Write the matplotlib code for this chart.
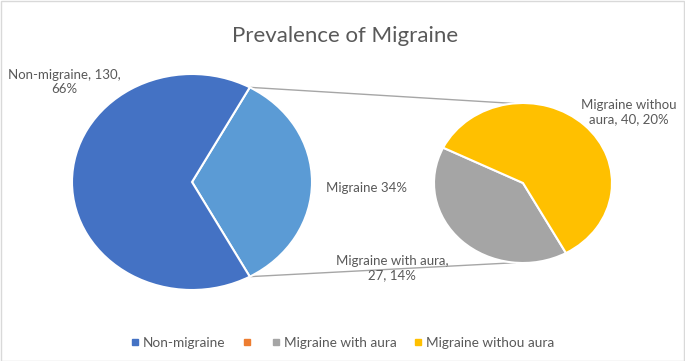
import numpy as np
import matplotlib.pyplot as plt
from matplotlib.patches import Rectangle
from matplotlib.lines import Line2D

main_labels = ["Non-migraine", "Migraine"]
main_values = [130, 67]
sub_labels = ["Migraine with aura", "Migraine withou aura"]
sub_values = [27, 40]
legend_labels = ["Non-migraine", "", "Migraine with aura", "Migraine withou aura"]

BLUE = "#4472C4"
LIGHT_BLUE = "#5B9BD5"
ORANGE = "#ED7D31"
GRAY = "#A5A5A5"
YELLOW = "#FFC000"
TEXT = "#595959"

W, H = 685, 361
plt.rcParams['font.family'] = ['Lato', 'DejaVu Sans']


def box(left, top, right, bottom):
    """Figure-fraction rect from pixel box (y measured from top)."""
    return [left / W, (H - bottom) / H, (right - left) / W, (bottom - top) / H]


def edge_point(cx, cy, rx, ry, angle_deg):
    a = np.deg2rad(angle_deg)
    return cx + rx * np.cos(a), cy - ry * np.sin(a)


fig = plt.figure(figsize=(W / 100, H / 100), dpi=100)

# overlay axes in pixel coords for lines and labels
bg = fig.add_axes([0, 0, 1, 1])
bg.set_xlim(0, W)
bg.set_ylim(H, 0)
bg.axis("off")

total = sum(main_values)
migraine_share = main_values[1] / total * 360
start = -migraine_share / 2

# main pie
m_box = (72, 74, 312, 290)
ax1 = fig.add_axes(box(*m_box))
ax1.pie(main_values[::-1], colors=[LIGHT_BLUE, BLUE], startangle=start,
        counterclock=True, wedgeprops=dict(edgecolor="white", linewidth=1.5))
ax1.set_aspect("auto")
ax1.set_xlim(-1.0, 1.0)
ax1.set_ylim(-1.0, 1.0)
ax1.axis("off")

# secondary pie
s_box = (434, 103, 612, 263)
ax2 = fig.add_axes(box(*s_box))
ax2.pie(sub_values, colors=[GRAY, YELLOW], startangle=153.8,
        counterclock=True, wedgeprops=dict(edgecolor="white", linewidth=1.5))
ax2.set_aspect("auto")
ax2.set_xlim(-1.0, 1.0)
ax2.set_ylim(-1.0, 1.0)
ax2.axis("off")

# connector lines
mcx, mcy = (m_box[0] + m_box[2]) / 2, (m_box[1] + m_box[3]) / 2
mrx, mry = (m_box[2] - m_box[0]) / 2, (m_box[3] - m_box[1]) / 2
scx, scy = (s_box[0] + s_box[2]) / 2, (s_box[1] + s_box[3]) / 2
srx, sry = (s_box[2] - s_box[0]) / 2, (s_box[3] - s_box[1]) / 2
p1 = edge_point(mcx, mcy, mrx, mry, -start)
p2 = edge_point(mcx, mcy, mrx, mry, start)
q1 = edge_point(scx, scy, srx, sry, 96)
q2 = edge_point(scx, scy, srx, sry, -95)
for a, b in [(p1, q1), (p2, q2)]:
    bg.plot([a[0], b[0]], [a[1], b[1]], color="#A6A6A6", lw=1.0)

# data labels
lbl = dict(color=TEXT, fontsize=9.5, ha="center", va="center", linespacing=1.25)
pct = [round(v / total * 100) for v in main_values]
sub_pct = [round(v / total * 100) for v in sub_values]
bg.text(64, 82, f"{main_labels[0]}, {main_values[0]},\n{pct[0]}%", **lbl)
bg.text(367, 188, f"{main_labels[1]} {pct[1]}%", **lbl)
bg.text(629, 112, f"Migraine withou\naura, {sub_values[1]}, {sub_pct[1]}%", **lbl)
bg.text(392, 268, f"{sub_labels[0]},\n{sub_values[0]}, {sub_pct[0]}%", **lbl)

# title
bg.text(345, 36, "Prevalence of Migraine", color=TEXT, fontsize=16,
        ha="center", va="center")

# legend
handles = [Line2D([], [], marker="s", ls="none", color=c, markersize=4.5)
           for c in [BLUE, ORANGE, GRAY, YELLOW]]
fig.legend(handles, legend_labels, loc="center", bbox_to_anchor=(0.5, 1 - 343 / H),
           ncol=4, frameon=False, fontsize=9.8, labelcolor=TEXT,
           handletextpad=0.25, columnspacing=1.3, handlelength=0.6)

# chart border
fig.patches.append(Rectangle((0.5 / W, 0.5 / H), 1 - 1.5 / W, 1 - 1.5 / H,
                             transform=fig.transFigure, fill=False,
                             edgecolor="#D9D9D9", lw=1.0))

fig.savefig("out.png", dpi=100, facecolor="white")
